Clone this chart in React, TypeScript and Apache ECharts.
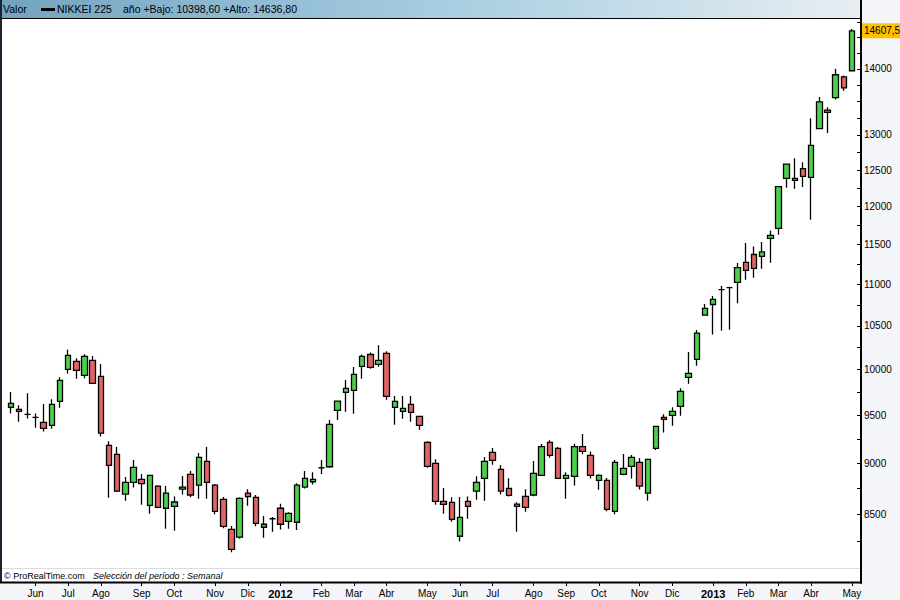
import React, { useEffect, useRef } from "react";
import * as echarts from "echarts";

// Weekly NIKKEI 225 candles, week of 2011-05-16 to week of 2013-05-06
const OPEN = [
  9584, 9562, 9508, 9476, 9424, 9392, 9648, 10000, 10090, 9933,
  10102, 9922, 9185, 9093, 8697, 8812, 8842, 8588, 8775, 8560,
  8578, 8745, 8891, 8784, 9022, 8784, 8645, 8361, 8287, 8707,
  8665, 8380, 8460, 8560, 8436, 8427, 8765, 8818, 8957, 8967,
  9551, 9746, 9768, 10034, 10168, 10057, 10181, 9584, 9540, 9616,
  9487, 9216, 9002, 8626, 8617, 8296, 8626, 8726, 8852, 9113,
  8941, 8753, 8600, 8674, 8688, 8882, 9216, 9154, 8852, 8872,
  9172, 9083, 8832, 8832, 8531, 8891, 8971, 9012, 8707, 9154,
  9476, 9497, 9595, 9911, 10113, 10625, 10753, 10933, 10957, 11024,
  11272, 11372, 11349, 11580, 11709, 12384, 12384, 12521, 12398, 13094,
  13368, 13555, 13875, 13969,
];
const CLOSE = [
  9626, 9540, 9508, 9476, 9361, 9616, 9878, 10157, 9989, 10146,
  9845, 9311, 8982, 8726, 8812, 8961, 8799, 8882, 8569, 8707,
  8620, 8765, 8688, 9062, 8812, 8531, 8389, 8175, 8656, 8673,
  8417, 8408, 8460, 8408, 8512, 8784, 8852, 8842, 8957, 9403,
  9651, 9790, 9944, 10146, 10022, 10102, 9703, 9648, 9572, 9529,
  9392, 8971, 8626, 8597, 8454, 8473, 8578, 8812, 9022, 9032,
  8726, 8684, 8578, 8569, 8901, 9172, 9083, 8852, 8882, 9172,
  9122, 8882, 8882, 8550, 9012, 8950, 9062, 8775, 9042, 9382,
  9455, 9540, 9757, 9955, 10415, 10707, 10815, 10933, 10957, 11206,
  11172, 11197, 11406, 11618, 12271, 12583, 12356, 12412, 12849, 13492,
  13333, 13907, 13704, 14607.5,
];
const LOW = [
  9519, 9430, 9466, 9367, 9329, 9357, 9580, 9955, 9896, 9900,
  9840, 9276, 8661, 8717, 8632, 8761, 8594, 8508, 8560, 8366,
  8347, 8693, 8665, 8651, 8651, 8502, 8370, 8148, 8273, 8584,
  8389, 8283, 8338, 8358, 8366, 8354, 8751, 8790, 8895, 8957,
  9448, 9536, 9515, 9896, 10007, 10030, 9665, 9399, 9462, 9430,
  9346, 8957, 8594, 8508, 8432, 8247, 8460, 8642, 8632, 8988,
  8693, 8674, 8338, 8527, 8675, 8878, 9058, 8850, 8651, 8781,
  9093, 8849, 8739, 8531, 8502, 8882, 8849, 8742, 8632, 9136,
  9318, 9389, 9494, 9841, 10041, 10620, 10398.6, 10442, 10453, 10767,
  11056, 11080, 11192, 11268, 11626, 12254, 12240, 12266, 11823, 13090,
  13030, 13528, 13660, 13965,
];
const HIGH = [
  9749, 9605, 9735, 9519, 9619, 9670, 9911, 10222, 10124, 10172,
  10150, 10060, 9226, 9167, 8865, 9035, 8895, 8885, 8784, 8777,
  8673, 8875, 8924, 9107, 9167, 8796, 8668, 8392, 8665, 8745,
  8688, 8486, 8476, 8604, 8521, 8803, 8924, 8911, 9035, 9448,
  9655, 9881, 10026, 10168, 10191, 10275, 10204, 9706, 9706, 9706,
  9490, 9226, 9042, 8756, 8665, 8668, 8674, 8872, 9065, 9157,
  8985, 8852, 8617, 8745, 9025, 9199, 9236, 9167, 8911, 9202,
  9303, 9122, 8891, 8855, 9035, 9096, 9086, 9052, 9045, 9385,
  9511, 9586, 9790, 10195, 10450, 10759, 10855, 10978, 10970, 11264,
  11520, 11476, 11534, 11683, 12275, 12590, 12665, 12610, 13245, 13566,
  13411, 14000, 13895, 14636.8,
];

const FIRST_WEEK = [2011, 4, 16]; // year, month index, day (Monday)
const MONTHS = ["Ene", "Feb", "Mar", "Abr", "May", "Jun", "Jul", "Ago", "Sep", "Oct", "Nov", "Dic"];
const Y_TICKS = [
  8250, 8500, 8750, 9000, 9250, 9500, 9750, 10000, 10250, 10500, 10750, 11000, 11250, 11500,
  11750, 12000, 12250, 12500, 12750, 13000, 13250, 13500, 13750, 14000, 14250, 14500, 14750,
];
const Y_LABELS = [8500, 9000, 9500, 10000, 10500, 11000, 11500, 12000, 12500, 13000, 14000];
const Y_MIN = 7873;
const Y_MAX = 14819;
const LAST_PRICE = 14607.5;
const LAST_PRICE_LABEL = "14607,5";
const HEADER_LEFT = "Valor";
const SERIES_NAME = "NIKKEI 225";
const HEADER_STATS = "año +Bajo: 10398,60 +Alto: 14636,80";
const FOOTER_BRAND = "© ProRealTime.com";
const FOOTER_PERIOD = "Selección del período : Semanal";

const FONT = '"Liberation Sans", Arial, sans-serif';

export default function App() {
  const ref = useRef<HTMLDivElement>(null);

  useEffect(() => {
    document.body.style.margin = "0";
    if (!ref.current) return;
    const chart = echarts.init(ref.current, undefined, { renderer: "svg" });

    const start = Date.UTC(FIRST_WEEK[0], FIRST_WEEK[1], FIRST_WEEK[2]);
    const categories = OPEN.map((_, i) =>
      new Date(start + i * 7 * 86400000).toISOString().slice(0, 10)
    );
    const isMonthStart = (_i: number, v: string) => Number(String(v).slice(8, 10)) <= 7;
    const data = OPEN.map((o, i) => [o, CLOSE[i], LOW[i], HIGH[i]]);

    const option: any = {
      animation: false,
      backgroundColor: "#f4f5f8",
      grid: { left: 7, right: 44, top: 18, bottom: 17, containLabel: false },
      xAxis: {
        type: "category",
        data: categories,
        boundaryGap: true,
        axisLine: { show: false },
        axisTick: {
          show: true,
          alignWithLabel: true,
          interval: isMonthStart,
          length: 3,
          lineStyle: { color: "#000", width: 1 },
        },
        axisLabel: {
          interval: isMonthStart,
          margin: 5,
          color: "#000",
          fontSize: 10,
          fontFamily: FONT,
          formatter: (v: string) => {
            const m = Number(v.slice(5, 7));
            return m === 1 ? `{y|${v.slice(0, 4)}}` : MONTHS[m - 1];
          },
          rich: {
            y: { fontWeight: "bold", fontSize: 11, fontFamily: FONT, color: "#000" },
          },
        },
        splitLine: { show: false },
      },
      yAxis: {
        type: "log",
        logBase: 10,
        position: "right",
        offset: 5,
        min: Y_MIN,
        max: Y_MAX,
        z: 5,
        axisLine: { show: true, lineStyle: { color: "#000", width: 2 } },
        axisTick: {
          show: true,
          inside: true,
          length: 4,
          customValues: Y_TICKS,
          lineStyle: { color: "#000", width: 1 },
        },
        axisLabel: {
          customValues: Y_LABELS,
          margin: 3,
          color: "#000",
          fontSize: 10,
          fontFamily: FONT,
          formatter: (v: number) => String(Math.round(v)),
        },
        splitLine: { show: false },
        minorTick: { show: false },
      },
      graphic: [
        { type: "rect", z: 0, silent: true, shape: { x: 0, y: 18, width: 861, height: 565 }, style: { fill: "#fff" } },
        {
          type: "rect",
          z: 0,
          silent: true,
          shape: { x: 0, y: 0, width: 861, height: 18 },
          style: {
            fill: new echarts.graphic.LinearGradient(0, 0, 1, 0, [
              { offset: 0, color: "#73a3bf" },
              { offset: 0.5, color: "#a5cce0" },
              { offset: 1, color: "#e8eef2" },
            ]),
          },
        },
        { type: "text", z: 10, silent: true, x: 3, y: 9, style: { text: HEADER_LEFT, fill: "#000", fontSize: 10.5, fontFamily: FONT, verticalAlign: "middle" } },
        { type: "rect", z: 10, silent: true, shape: { x: 41, y: 8, width: 14, height: 3 }, style: { fill: "#000" } },
        { type: "text", z: 10, silent: true, x: 57, y: 9, style: { text: SERIES_NAME, fill: "#000", fontSize: 10.5, fontFamily: FONT, verticalAlign: "middle" } },
        { type: "text", z: 10, silent: true, x: 123, y: 9, style: { text: HEADER_STATS, fill: "#000", fontSize: 10.5, fontFamily: FONT, verticalAlign: "middle" } },
        { type: "line", z: 10, silent: true, shape: { x1: 0, y1: 18.5, x2: 862, y2: 18.5 }, style: { stroke: "#000", lineWidth: 1.2 } },
        { type: "line", z: 10, silent: true, shape: { x1: 1, y1: 0, x2: 1, y2: 583 }, style: { stroke: "#1b2430", lineWidth: 2 } },
        { type: "line", z: 10, silent: true, shape: { x1: 861, y1: 0, x2: 861, y2: 583 }, style: { stroke: "#000", lineWidth: 2 } },
        { type: "line", z: 10, silent: true, shape: { x1: 0, y1: 582.5, x2: 862, y2: 582.5 }, style: { stroke: "#000", lineWidth: 2 } },
        { type: "line", z: 10, silent: true, shape: { x1: 2, y1: 568.5, x2: 860, y2: 568.5 }, style: { stroke: "#dcdcdc", lineWidth: 1 } },
        { type: "text", z: 10, silent: true, x: 4, y: 576, style: { text: FOOTER_BRAND, fill: "#000", fontSize: 9, fontFamily: FONT, verticalAlign: "middle" } },
        { type: "text", z: 10, silent: true, x: 93, y: 576, style: { text: FOOTER_PERIOD, fill: "#000", fontSize: 9, fontStyle: "italic", fontFamily: FONT, verticalAlign: "middle" } },
      ],
      series: [
        {
          type: "candlestick",
          name: SERIES_NAME,
          data,
          barWidth: 6,
          z: 2,
          itemStyle: {
            color: "#4cd04c",
            color0: "#e06464",
            borderColor: "#000",
            borderColor0: "#000",
            borderColorDoji: "#000",
            borderWidth: 1.3,
          },
          markLine: {
            silent: true,
            symbol: ["none", "none"],
            data: [{ yAxis: LAST_PRICE }],
            lineStyle: { width: 0, color: "#ffc000", type: "solid" },
            label: {
              show: true,
              position: "end",
              distance: 6,
              formatter: LAST_PRICE_LABEL,
              backgroundColor: "#ffc000",
              color: "#000",
              fontSize: 10,
              fontFamily: FONT,
              padding: [3, 2, 2, 2],
            },
          },
        },
      ],
    };

    chart.setOption(option);
    return () => chart.dispose();
  }, []);

  return (
    <div
      ref={ref}
      style={{ position: "fixed", left: 0, top: 0, width: 900, height: 600, background: "#f4f5f8" }}
    />
  );
}
